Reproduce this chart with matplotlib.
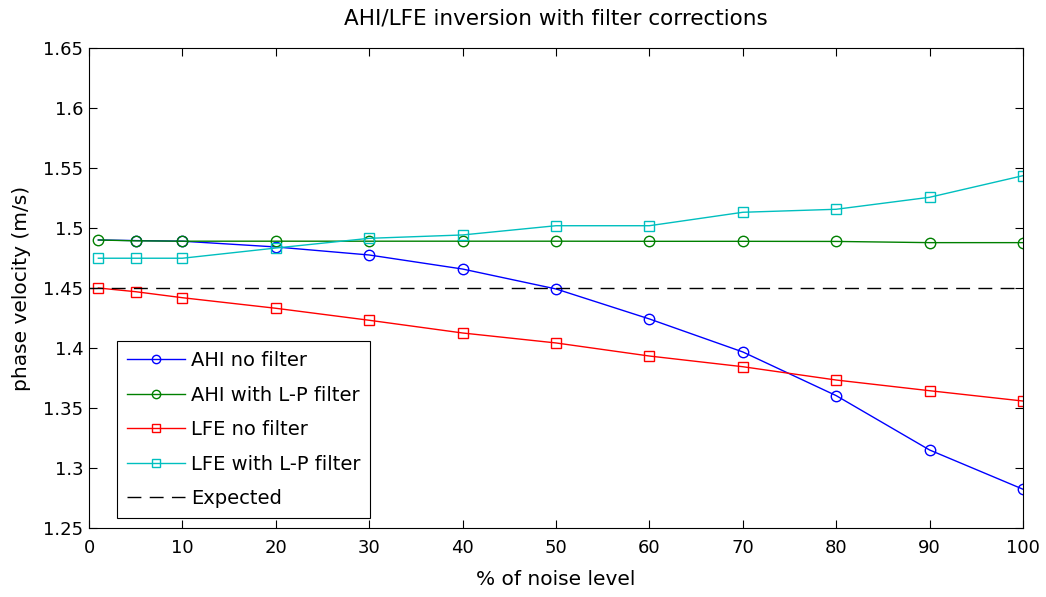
import matplotlib
matplotlib.use("Agg")
import matplotlib.pyplot as plt

# Noise levels (%) and estimated phase velocities (m/s)
noise = [1, 5, 10, 20, 30, 40, 50, 60, 70, 80, 90, 100]
ahi_no_filter = [1.4900, 1.4895, 1.4890, 1.4842, 1.4775, 1.4658, 1.4492, 1.4242, 1.3967, 1.3603, 1.3150, 1.2823]
ahi_lp_filter = [1.4900, 1.4893, 1.4890, 1.4890, 1.4890, 1.4890, 1.4890, 1.4889, 1.4889, 1.4888, 1.4878, 1.4878]
lfe_no_filter = [1.4500, 1.4469, 1.4419, 1.4331, 1.4231, 1.4125, 1.4042, 1.3933, 1.3844, 1.3733, 1.3644, 1.3558]
lfe_lp_filter = [1.4748, 1.4748, 1.4748, 1.4833, 1.4914, 1.4942, 1.5019, 1.5019, 1.5131, 1.5156, 1.5256, 1.5436]

expected_x = [0, 100]
expected_v = [1.45, 1.45]

xticks = list(range(0, 101, 10))
yticks = [1.25, 1.3, 1.35, 1.4, 1.45, 1.5, 1.55, 1.6, 1.65]
ytick_labels = ["1.25", "1.3", "1.35", "1.4", "1.45", "1.5", "1.55", "1.6", "1.65"]

plt.rcParams["font.family"] = ["DejaVu Sans"]

fig = plt.figure(figsize=(10.46, 5.97), dpi=100)
ax = fig.add_axes([0.0851, 0.1156, 0.8929, 0.8040])

ms = 7.5
# first AHI sample coincides with the filtered one, so only its line is shown
ax.plot(noise, ahi_no_filter, color=(0, 0, 1), lw=1, marker="o", ms=ms,
        mfc="none", mec=(0, 0, 1), markevery=list(range(1, len(noise))),
        label="AHI no filter")
ax.plot(noise, ahi_lp_filter, color=(0, 0.5, 0), lw=1, marker="o", ms=ms,
        mfc="none", mec=(0, 0.5, 0), label="AHI with L-P filter")
ax.plot(noise, lfe_no_filter, color=(1, 0, 0), lw=1, marker="s", ms=ms,
        mfc="none", mec=(1, 0, 0), label="LFE no filter")
ax.plot(noise, lfe_lp_filter, color=(0, 0.75, 0.75), lw=1, marker="s", ms=ms,
        mfc="none", mec=(0, 0.75, 0.75), label="LFE with L-P filter")
ax.plot(expected_x, expected_v, color="black", lw=1, dashes=(10, 6), label="Expected")

ax.set_xlim(0, 100)
ax.set_ylim(1.25, 1.65)
ax.set_xticks(xticks)
ax.set_yticks(yticks)
ax.set_yticklabels(ytick_labels)
ax.tick_params(direction="in", top=True, right=True, length=6, width=0.8,
               labelsize=13)
ax.tick_params(axis="x", pad=8)
ax.tick_params(axis="y", pad=4)
for s in ax.spines.values():
    s.set_linewidth(0.8)

ax.set_title("AHI/LFE inversion with filter corrections", fontsize=15.5, pad=17)
ax.set_xlabel("% of noise level", fontsize=14.5, labelpad=9)
ax.set_ylabel("phase velocity (m/s)", fontsize=14.5, labelpad=9)

leg = ax.legend(loc="lower left", bbox_to_anchor=(0.030, 0.021), fontsize=14,
                frameon=True, fancybox=False, edgecolor="black", framealpha=1,
                handlelength=3.0, handletextpad=0.3, borderpad=0.5,
                labelspacing=0.8, borderaxespad=0, markerscale=0.8)
leg.get_frame().set_linewidth(0.8)

fig.savefig("out.png", dpi=100)
